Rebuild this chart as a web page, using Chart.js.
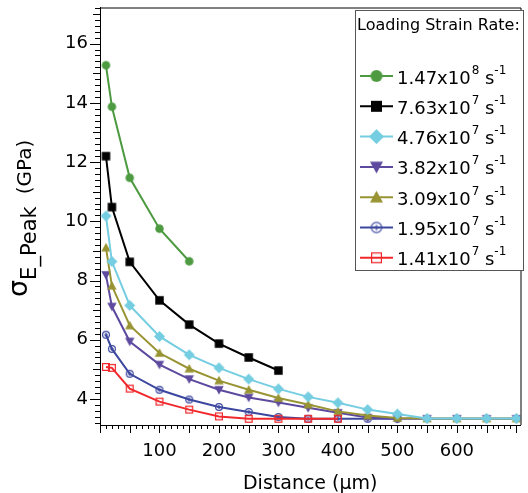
<!DOCTYPE html>
<html>
<head>
<meta charset="utf-8">
<script src="https://cdn.jsdelivr.net/npm/chart.js@4.4.1/dist/chart.umd.min.js"></script>
<style>
  html, body { margin: 0; padding: 0; background: #fff; }
  #wrap { position: relative; width: 528px; height: 493px; }
</style>
</head>
<body>
<div id="wrap"><canvas id="chart" width="528" height="493"></canvas></div>
<script>
// distances (µm) where the peak stress was sampled
const distances = [10, 20, 50, 100, 150, 200, 250, 300, 350, 400, 450, 500, 550, 600, 650, 700];

// peak stress (GPa) per loading strain rate
const rate147e8 = [15.27, 13.87, 11.47, 9.75, 8.65];
const rate763e7 = [12.2, 10.48, 8.63, 7.33, 6.51, 5.87, 5.40, 4.96];
const rate476e7 = [10.18, 8.64, 7.16, 6.11, 5.49, 5.05, 4.67, 4.34, 4.07, 3.87, 3.64, 3.49, 3.34, 3.34, 3.34, 3.34];
const rate382e7 = [8.19, 7.12, 5.94, 5.16, 4.67, 4.31, 4.05, 3.88, 3.70, 3.53, 3.37, 3.33, 3.33, 3.33, 3.33, 3.33];
const rate309e7 = [9.11, 7.82, 6.48, 5.55, 5.02, 4.62, 4.31, 4.03, 3.81, 3.58, 3.44, 3.36, 3.34, 3.34, 3.34, 3.34];
const rate195e7 = [6.17, 5.69, 4.85, 4.31, 3.98, 3.73, 3.56, 3.39, 3.33, 3.33, 3.33, 3.33];
const rate141e7 = [5.08, 5.05, 4.35, 3.91, 3.64, 3.41, 3.33, 3.33, 3.33, 3.33];

const rateMantissas = ['1.47', '7.63', '4.76', '3.82', '3.09', '1.95', '1.41'];
const rateExponents = ['8', '7', '7', '7', '7', '7', '7'];

const xTickValues = [100, 200, 300, 400, 500, 600];
const yTickValues = [4, 6, 8, 10, 12, 14, 16];

const FONT = "'DejaVu Sans', sans-serif";

// marker images, one small canvas per style
function makeMarker(shape, size, color) {
  const s = Math.ceil(size) + 4;
  const c = document.createElement('canvas');
  c.width = c.height = s;
  const g = c.getContext('2d');
  const m = s / 2, r = size / 2;
  g.fillStyle = color;
  g.strokeStyle = color;
  g.lineWidth = 1.2;
  g.beginPath();
  if (shape === 'circle') {
    g.arc(m, m, r, 0, Math.PI * 2);
    g.fill();
  } else if (shape === 'square') {
    g.rect(m - r, m - r, size, size);
    g.fill();
  } else if (shape === 'diamond') {
    g.moveTo(m, m - r); g.lineTo(m + r, m); g.lineTo(m, m + r); g.lineTo(m - r, m);
    g.closePath(); g.fill();
  } else if (shape === 'triDown') {
    g.moveTo(m - r, m - r * 0.8); g.lineTo(m + r, m - r * 0.8); g.lineTo(m, m + r);
    g.closePath(); g.fill();
  } else if (shape === 'triUp') {
    g.moveTo(m, m - r); g.lineTo(m + r, m + r * 0.8); g.lineTo(m - r, m + r * 0.8);
    g.closePath(); g.fill();
  } else if (shape === 'circlePlus') {
    g.arc(m, m, r - 0.6, 0, Math.PI * 2);
    g.stroke();
    g.beginPath();
    g.moveTo(m, m - r * 0.5); g.lineTo(m, m + r * 0.5);
    g.moveTo(m - r * 0.5, m); g.lineTo(m + r * 0.5, m);
    g.stroke();
  } else if (shape === 'openSquare') {
    g.rect(m - r + 0.6, m - r + 0.6, size - 1.2, size - 1.2);
    g.stroke();
  }
  return c;
}

const series = [
  { data: rate147e8, color: '#4d9a41', shape: 'circle',     size: 8.5, legendSize: 12, order: 2 },
  { data: rate763e7, color: '#000000', shape: 'square',     size: 8.5, legendSize: 11, order: 3 },
  { data: rate476e7, color: '#74cde0', shape: 'diamond',    size: 11,  legendSize: 15, order: 0 },
  { data: rate382e7, color: '#5d4a9e', shape: 'triDown',    size: 9.5, legendSize: 13, order: 5 },
  { data: rate309e7, color: '#999433', shape: 'triUp',      size: 9.5, legendSize: 13, order: 4 },
  { data: rate195e7, color: '#3c479f', shape: 'circlePlus', size: 8,   legendSize: 11.5, order: 6 },
  { data: rate141e7, color: '#f0282c', shape: 'openSquare', size: 8,   legendSize: 11, order: 1 }
];
series.forEach(s => {
  s.marker = makeMarker(s.shape, s.size, s.color);
  s.legendMarker = makeMarker(s.shape, s.legendSize, s.color);
});

const datasets = series.map((s, i) => ({
  label: rateMantissas[i] + 'x10^' + rateExponents[i] + ' s^-1',
  data: s.data.map((v, j) => ({ x: distances[j], y: v })),
  borderColor: s.color,
  backgroundColor: s.color,
  borderWidth: 2,
  pointStyle: s.marker,
  pointRadius: s.size / 2,
  tension: 0,
  order: s.order
}));

const decor = {
  id: 'decor',
  afterDraw(chart) {
    const { ctx, chartArea: a, scales: { x, y } } = chart;
    ctx.save();
    ctx.strokeStyle = '#000';
    ctx.lineWidth = 1;
    // top and right frame
    ctx.beginPath();
    ctx.moveTo(a.left, a.top + 0.5); ctx.lineTo(a.right + 0.5, a.top + 0.5);
    ctx.lineTo(a.right + 0.5, a.bottom);
    ctx.stroke();

    // y ticks every 0.2
    ctx.beginPath();
    for (let k = 16; k <= 86; k++) {
      const py = Math.round(y.getPixelForValue(k / 5)) + 0.5;
      let len = 5;
      if (k % 5 === 0) len = (k / 5) % 2 === 0 ? 10 : 7;
      ctx.moveTo(a.left - len, py); ctx.lineTo(a.left, py);
    }
    // x ticks every 10
    for (let v = 0; v <= 700; v += 10) {
      const px = Math.round(x.getPixelForValue(v)) + 0.5;
      const len = v % 50 === 0 ? 8 : 4;
      ctx.moveTo(px, a.bottom); ctx.lineTo(px, a.bottom + len);
    }
    ctx.stroke();

    // axis titles
    ctx.fillStyle = '#000';
    ctx.textBaseline = 'alphabetic';
    ctx.font = '19px ' + FONT;
    ctx.textAlign = 'center';
    ctx.fillText('Distance (μm)', (a.left + a.right) / 2, 489);

    ctx.save();
    ctx.translate(27, 297);
    ctx.rotate(-Math.PI / 2);
    ctx.textAlign = 'left';
    ctx.font = '27px ' + FONT;
    ctx.fillText('σ', 0, 0);
    let pos = ctx.measureText('σ').width;
    ctx.font = '21px ' + FONT;
    ctx.fillText('E_Peak', pos, 9);
    pos += ctx.measureText('E_Peak').width + 12;
    ctx.font = '20px ' + FONT;
    ctx.fillText('(GPa)', pos, 3.5);
    ctx.restore();

    // legend box
    const lx = 355, ly = 10, lw = 168, lh = 260;
    ctx.fillStyle = '#fff';
    ctx.fillRect(lx, ly, lw, lh);
    ctx.strokeStyle = '#555';
    ctx.strokeRect(lx + 0.5, ly + 0.5, lw, lh);
    ctx.fillStyle = '#000';
    ctx.textAlign = 'left';
    ctx.font = '16px ' + FONT;
    ctx.fillText('Loading Strain Rate:', 357, 30);

    series.forEach((s, i) => {
      const cy = 76 + i * 30.3;
      ctx.strokeStyle = s.color;
      ctx.lineWidth = 2;
      ctx.beginPath();
      ctx.moveTo(360, cy); ctx.lineTo(393, cy);
      ctx.stroke();
      const mk = s.legendMarker;
      ctx.drawImage(mk, 376.5 - mk.width / 2, cy - mk.height / 2);

      ctx.fillStyle = '#000';
      let tx = 397;
      const base = cy + 7.5;
      ctx.font = '18px ' + FONT;
      ctx.fillText(rateMantissas[i] + 'x10', tx, base);
      tx += ctx.measureText(rateMantissas[i] + 'x10').width + 1;
      ctx.font = '12px ' + FONT;
      ctx.fillText(rateExponents[i], tx, base - 10);
      tx += ctx.measureText(rateExponents[i]).width;
      ctx.font = '18px ' + FONT;
      ctx.fillText(' s', tx, base);
      tx += ctx.measureText(' s').width;
      ctx.font = '12px ' + FONT;
      ctx.fillText('-1', tx, base - 10);
    });
    ctx.restore();
  }
};

new Chart(document.getElementById('chart'), {
  type: 'line',
  data: { datasets },
  plugins: [decor],
  options: {
    responsive: false,
    animation: false,
    layout: { padding: { left: 0, right: 3, top: 7, bottom: 0 } },
    plugins: { legend: { display: false }, tooltip: { enabled: false } },
    scales: {
      x: {
        type: 'linear',
        min: 0,
        max: 707,
        afterBuildTicks: s => { s.ticks = xTickValues.map(v => ({ value: v })); },
        afterFit: s => { s.height = 68; s.paddingLeft = 0; s.paddingRight = 0; },
        grid: { display: false, drawTicks: false },
        border: { display: true, color: '#000', width: 1 },
        ticks: { color: '#000', font: { family: FONT, size: 18 }, padding: 16, maxRotation: 0, autoSkip: false }
      },
      y: {
        type: 'linear',
        min: 3.12,
        max: 17.22,
        afterBuildTicks: s => { s.ticks = yTickValues.map(v => ({ value: v })); },
        afterFit: s => { s.width = 100; s.paddingTop = 0; s.paddingBottom = 0; },
        grid: { display: false, drawTicks: false },
        border: { display: true, color: '#000', width: 1 },
        ticks: { color: '#000', font: { family: FONT, size: 18 }, padding: 12 }
      }
    }
  }
});
</script>
</body>
</html>
